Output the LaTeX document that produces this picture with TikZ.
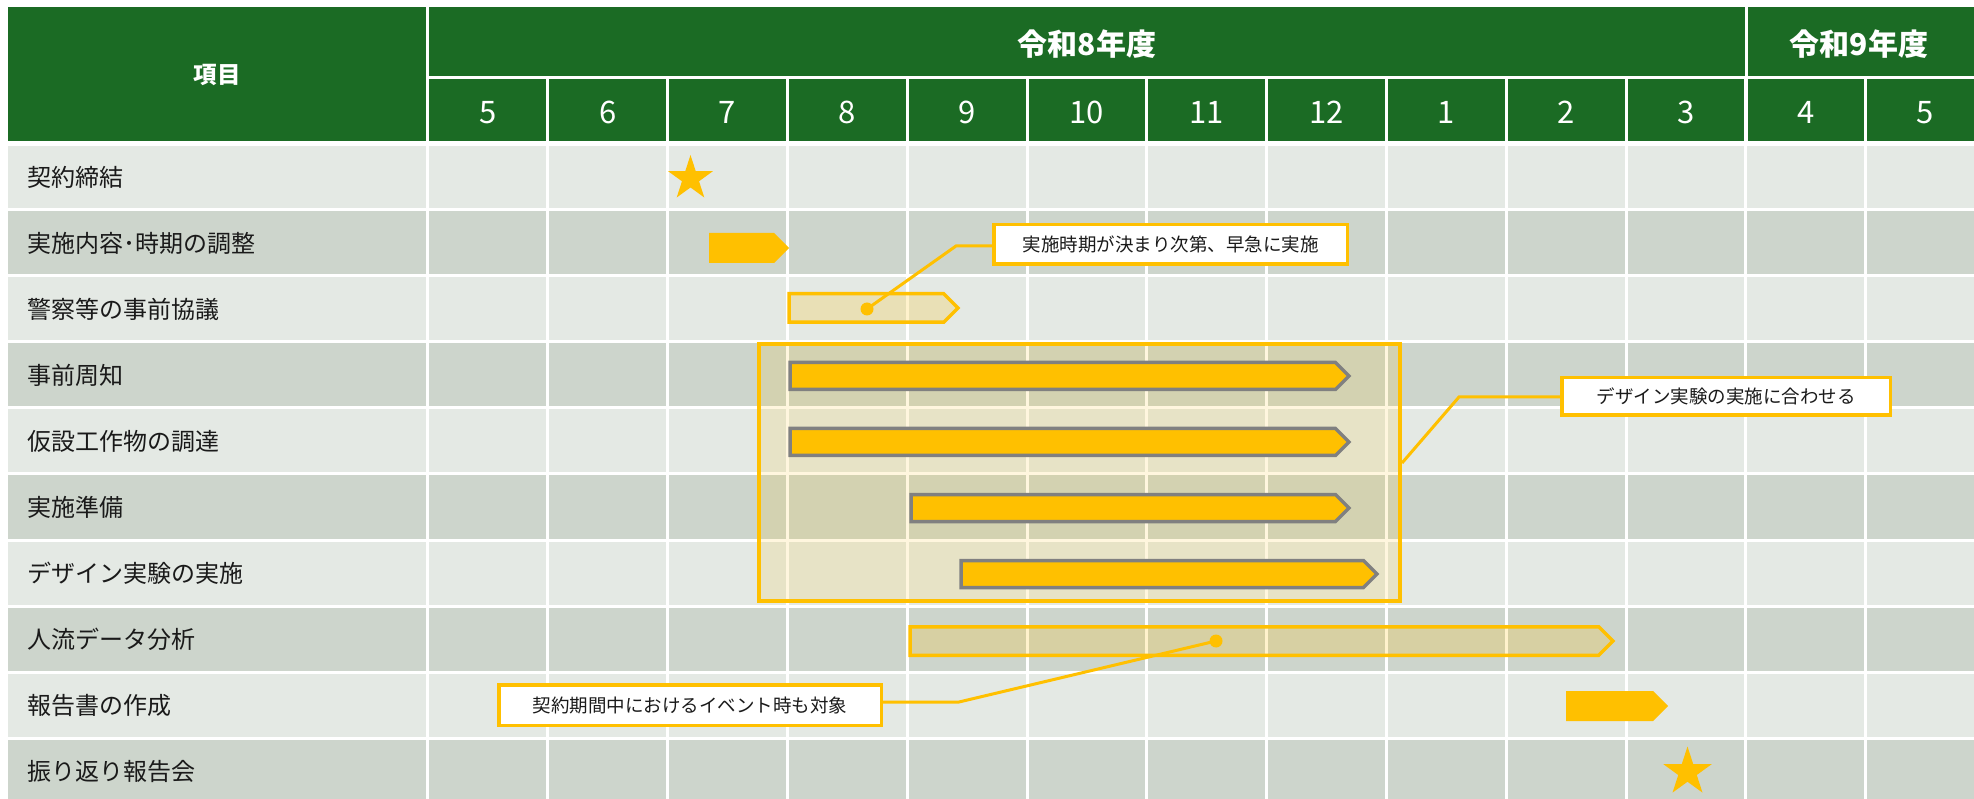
\documentclass[tikz,border=0pt]{standalone}
\usepackage{fontspec}
\setmainfont{Noto Sans CJK JP}
\usetikzlibrary{shapes.geometric}
\definecolor{hdr}{HTML}{1B6B24}
\definecolor{rowA}{HTML}{E4E9E4}
\definecolor{rowB}{HTML}{CDD5CC}
\definecolor{gold}{HTML}{FFC000}
\definecolor{bargray}{HTML}{808080}
\definecolor{txt}{HTML}{1A1A1A}
\newcommand\ganttbar[5]{%
  \path[#1] (#2,#4-#5) -- (#3-#5,#4-#5) -- (#3,#4) -- (#3-#5,#4+#5) -- (#2,#4+#5) -- cycle;}
\begin{document}
\begin{tikzpicture}[x=1pt,y=-1pt,
  lbl/.style={anchor=west, text=txt, inner sep=0, font=\fontsize{24}{26}\selectfont},
  month/.style={text=white, inner sep=0, font=\fontsize{31}{34}\selectfont},
  year/.style={text=white, inner sep=0, font=\fontsize{30}{34}\selectfont\bfseries},
  callout/.style={draw=gold, line width=3.5pt, fill=white, inner sep=0, text=txt, font=\fontsize{18.5}{21}\selectfont},
  leader/.style={draw=gold, line width=3pt},
  dotmark/.style={circle, fill=gold, inner sep=0, minimum size=13pt},
  solidbar/.style={fill=gold},
  graybar/.style={fill=gold, draw=bargray, line width=3.5pt, line join=miter},
  lightbar/.style={fill=gold, fill opacity=0.2, draw=gold, draw opacity=1, line width=3.5pt, line join=miter},
  gridline/.style={draw=white, line width=3pt},
  starmark/.style={star, star points=5, star point ratio=2.618, fill=gold, inner sep=0}
]
\useasboundingbox (0,0) rectangle (1974,799);
\clip (0,0) rectangle (1974,799);
\fill[white] (0,0) rectangle (1974,799);

% header
\fill[hdr] (8,7) rectangle (1974,141);
\draw[gridline] (427.5,7) -- (427.5,141);
\draw[gridline] (428,77.5) -- (1974,77.5);
\draw[gridline] (1746,7) -- (1746,141);
\foreach \k in {1,...,12} \draw[gridline] (428+119.8*\k,78) -- (428+119.8*\k,141);
\node[text=white, inner sep=0, font=\fontsize{23.5}{26}\selectfont\bfseries] (hItem) at (217,75) {項目};
\node[year] (hY8) at (1087,44) {令和8年度};
\node[year] (hY9) at (1859,44) {令和9年度};
\foreach \m [count=\k from 0] in {5,6,7,8,9,10,11,12,1,2,3,4,5}
  \node[month] (m\k) at (428+119.8*\k+59.9,112.5) {\m};

% rows
\foreach \i in {0,2,4,6,8} \fill[rowA] (8,144+66*\i) rectangle (1974,210+66*\i);
\foreach \i in {1,3,5,7,9} \fill[rowB] (8,144+66*\i) rectangle (1974,210+66*\i);
\fill[white] (0,141) rectangle (1974,146.5);
\foreach \i in {1,...,9} \draw[gridline] (8,144+66*\i) -- (1974,144+66*\i);
\draw[gridline] (427.5,146) -- (427.5,799);
\foreach \k in {1,...,12} \draw[gridline] (428+119.8*\k,146) -- (428+119.8*\k,799);

\foreach \t [count=\i from 0] in {契約締結,実施内容･時期の調整,警察等の事前協議,事前周知,仮設工作物の調達,実施準備,デザイン実験の実施,人流データ分析,報告書の作成,振り返り報告会}
  \node[lbl] (r\i) at (27,177+66*\i) {\t};

% highlight box
\node[draw=gold, line width=4pt, fill=gold, fill opacity=0.13, draw opacity=1, inner sep=0,
      minimum width=641pt, minimum height=257pt] (hl) at (1079.5,472.5) {};

% bars
\ganttbar{solidbar}{709}{789}{248}{15}
\ganttbar{lightbar}{789}{958}{308}{14.25}
\ganttbar{graybar}{790}{1349}{376}{13.5}
\ganttbar{graybar}{790}{1349}{442}{13.5}
\ganttbar{graybar}{911}{1349}{508}{13.5}
\ganttbar{graybar}{961}{1377}{574}{13.5}
\ganttbar{lightbar}{910}{1613}{641}{14.25}
\ganttbar{solidbar}{1566}{1668}{706}{15}

% stars
\node[starmark, minimum size=47pt] (s1) at (690.5,178.5) {};
\node[starmark, minimum size=51pt] (s2) at (1687.5,772) {};

% callouts
\node[callout, minimum width=353.5pt, minimum height=39.5pt] (c1) at (1170.5,244.5) {実施時期が決まり次第、早急に実施};
\node[callout, minimum width=328.5pt, minimum height=37.5pt] (c2) at (1726,396.5) {デザイン実験の実施に合わせる};
\node[callout, minimum width=382.5pt, minimum height=40.5pt] (c3) at (690,705) {契約期間中におけるイベント時も対象};

% leaders
\node[dotmark] (d1) at (867,309) {};
\coordinate (b1) at (956,246);
\draw[leader] (d1.center) -- (b1) -- (b1 -| c1.west);
\coordinate (a2) at (1402,463);
\coordinate (b2) at (1459,397);
\draw[leader] (a2) -- (b2) -- (b2 -| c2.west);
\node[dotmark] (d3) at (1216,641) {};
\coordinate (b3) at (959,702);
\draw[leader] (d3.center) -- (b3) -- (b3 -| c3.east);
\end{tikzpicture}
\end{document}
